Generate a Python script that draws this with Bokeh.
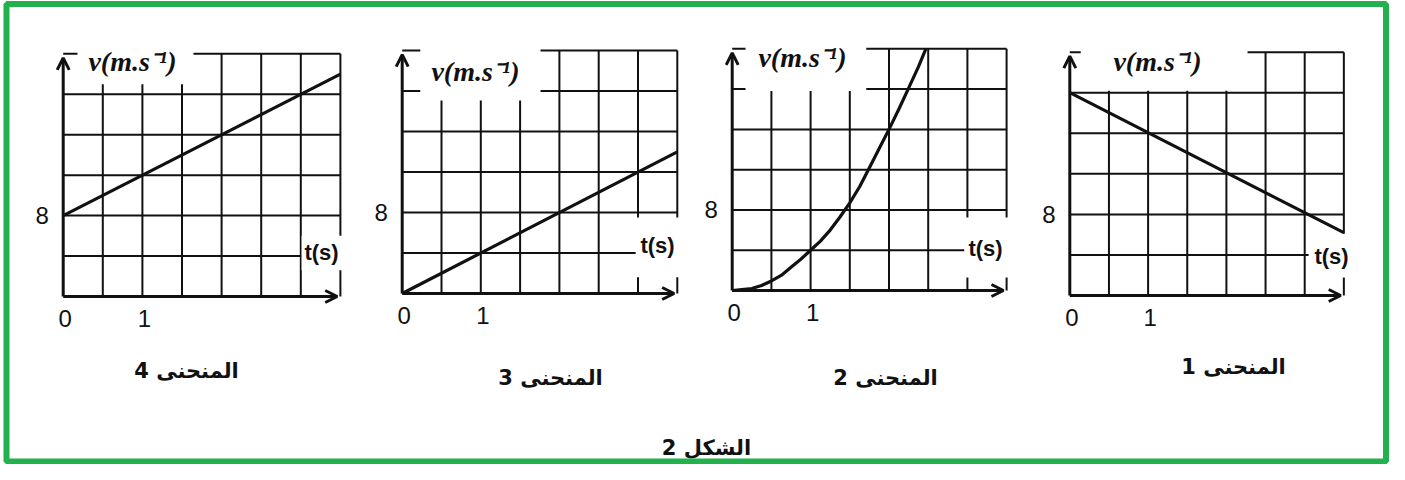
from bokeh.plotting import figure
from bokeh.models import Range1d, Arrow, OpenHead
from bokeh.core.properties import value
from bokeh.embed import file_html
from bokeh.resources import INLINE

# ---------------- data ----------------
grid_t = [0, 0.5, 1, 1.5, 2, 2.5, 3, 3.5]          # s (one cell = 0.5 s)
grid_v = [0, 4, 8, 12, 16, 20, 24]                 # m/s (one cell = 4 m/s)
tick_t_vals = [0, 1]
tick_t_labels = ["0", "1"]
tick_v_vals = [8]
tick_v_labels = ["8"]

curve1_t = [0, 3.5]
curve1_v = [20, 6.2]
curve2_t = [0, 0.25, 0.375, 0.5, 0.625, 0.75, 0.875, 1, 1.125, 1.25, 1.375, 1.5,
            1.625, 1.75, 1.875, 2.0, 2.125, 2.25, 2.375, 2.47]
curve2_v = [0, 0.2, 0.5, 0.95, 1.5, 2.3, 3.1, 4.0, 4.9, 6.0, 7.3, 8.7,
            10.3, 12.2, 14.1, 16.0, 18.0, 20.1, 22.2, 24.0]
curve3_t = [0, 3.5]
curve3_v = [0, 14]
curve4_t = [0, 3.5]
curve4_v = [8, 22]

captions = ["المنحنى 1", "المنحنى 2", "المنحنى 3", "المنحنى 4"]
figure_caption = "الشكل 2"
y_label = "v(m.s⁻¹)"
x_label = "t(s)"

# ---------------- layout (page pixels) ----------------
W, H, M = 1389, 464, 0
GREEN = "#22B14C"
INK = "#111111"

panels = [
    dict(t=curve4_t, v=curve4_v, cap=captions[3], ox=62.7, oy=296.0, sx=79.2, sy=10.11,
         vbox=(0.18, 1.645, 21.0, 24.8), tbox=(3.01, 3.58, 2.6, 6.0),
         vlab=(132, 61), tlab=(321, 252), cxy=(186, 370)),
    dict(t=curve3_t, v=curve3_v, cap=captions[2], ox=401.7, oy=293.0, sx=78.6, sy=10.12,
         vbox=(0.23, 1.76, 19.07, 24.8), tbox=(2.97, 3.56, 1.6, 7.5),
         vlab=(475, 71), tlab=(657, 245), cxy=(550, 377)),
    dict(t=curve2_t, v=curve2_v, cap=captions[1], ox=731.7, oy=290.0, sx=78.4, sy=10.07,
         vbox=(0.17, 1.71, 19.8, 24.8), tbox=(2.96, 3.56, 1.3, 7.25),
         vlab=(802, 57), tlab=(985, 248), cxy=(885, 377)),
    dict(t=curve1_t, v=curve1_v, cap=captions[0], ox=1069.3, oy=295.0, sx=78.3, sy=10.14,
         vbox=(0.14, 2.27, 20.2, 24.8), tbox=(3.05, 3.66, 1.78, 6.1),
         vlab=(1157, 61), tlab=(1331, 256), cxy=(1233, 366)),
]

p = figure(width=W, height=H, x_range=Range1d(M, M + W), y_range=Range1d(M + H, M),
           output_backend="svg", toolbar_location=None, min_border=0,
           x_axis_location=None, y_axis_location=None, title=None)
p.grid.visible = False
p.outline_line_color = None
p.background_fill_color = "white"
p.border_fill_color = "white"

for i, pn in enumerate(panels):
    xr, yr = f"x{i}", f"y{i}"
    p.extra_x_ranges[xr] = Range1d((M - pn["ox"]) / pn["sx"], (M + W - pn["ox"]) / pn["sx"])
    p.extra_y_ranges[yr] = Range1d((pn["oy"] - (M + H)) / pn["sy"], (pn["oy"] - M) / pn["sy"])
    kw = dict(x_range_name=xr, y_range_name=yr)
    tmax, vmax = grid_t[-1], grid_v[-1]

    # grid
    vt = grid_t[1:]
    p.segment(x0=vt, y0=[0] * len(vt), x1=vt, y1=[vmax] * len(vt),
              line_color=INK, line_width=2, **kw)
    hv = grid_v[1:]
    p.segment(x0=[0] * len(hv), y0=hv, x1=[tmax] * len(hv), y1=hv,
              line_color=INK, line_width=2, **kw)

    # white label backgrounds
    l, r, b, t = pn["vbox"]
    p.quad(left=[l], right=[r], bottom=[b], top=[t], fill_color="white", line_color=None, **kw)
    l, r, b, t = pn["tbox"]
    p.quad(left=[l], right=[r], bottom=[b], top=[t], fill_color="white", line_color=None, **kw)

    # axes with arrows
    p.add_layout(Arrow(x_start=0, y_start=0, x_end=0, y_end=23.6, line_width=3, line_color=INK,
                       end=OpenHead(size=12, line_width=3, line_color=INK), **kw))
    p.add_layout(Arrow(x_start=0, y_start=0, x_end=3.46, y_end=0, line_width=3, line_color=INK,
                       end=OpenHead(size=12, line_width=3, line_color=INK), **kw))

    # curve
    p.line(pn["t"], pn["v"], line_width=3.2, line_color=INK, line_join="round", **kw)

    # tick labels
    p.text(x=tick_t_vals, y=[0] * len(tick_t_vals), text=tick_t_labels, y_offset=22, x_offset=2,
           text_font=value("Liberation Sans"), text_font_size="24px", text_color=INK,
           text_align="center", text_baseline="middle", **kw)
    p.text(x=[0] * len(tick_v_vals), y=tick_v_vals, text=tick_v_labels, x_offset=-21,
           text_font=value("Liberation Sans"), text_font_size="24px", text_color=INK,
           text_align="center", text_baseline="middle", **kw)

    # axis titles and caption (page coordinates)
    p.text(x=[pn["vlab"][0]], y=[pn["vlab"][1]], text=[y_label],
           text_font=value("Liberation Serif"), text_font_style="bold italic", text_font_size="28px",
           text_color=INK, text_align="center", text_baseline="middle")
    p.text(x=[pn["tlab"][0]], y=[pn["tlab"][1]], text=[x_label],
           text_font=value("Liberation Sans"), text_font_style="bold", text_font_size="22px",
           text_color=INK, text_align="center", text_baseline="middle")
    p.text(x=[pn["cxy"][0]], y=[pn["cxy"][1]], text=[pn["cap"]],
           text_font=value("DejaVu Sans"), text_font_style="bold", text_font_size="21px",
           text_color=INK, text_align="center", text_baseline="middle")

p.text(x=[706], y=[447], text=[figure_caption],
       text_font=value("DejaVu Sans"), text_font_style="bold", text_font_size="21px",
       text_color=INK, text_align="center", text_baseline="middle")

# green frame
p.quad(left=[6], right=[1385.5], top=[3.5], bottom=[461], fill_color=None,
       line_color=GREEN, line_width=6)

open("out.html", "w").write(file_html(p, INLINE))
